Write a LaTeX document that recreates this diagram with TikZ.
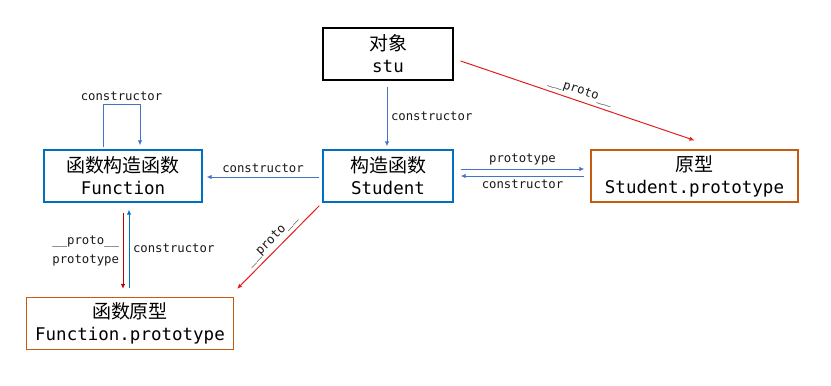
\documentclass[tikz,border=0pt]{standalone}
\usepackage{fontspec}
\setmonofont{DejaVu Sans Mono}
\newfontfamily\cjk{Noto Sans CJK SC}
\usetikzlibrary{arrows.meta,calc}
\definecolor{boxblue}{HTML}{0070C0}
\definecolor{boxorange}{HTML}{C55A11}
\definecolor{arrblue}{HTML}{4472C4}
\definecolor{arrred}{HTML}{E0201E}
\definecolor{darkred}{HTML}{C00000}
\newcommand{\cn}[1]{{\cjk\fontsize{19}{22}\selectfont #1}}
\newcommand{\mono}[1]{{\ttfamily\fontsize{17.5}{22}\selectfont #1}}
\begin{document}
\begin{tikzpicture}[x=1pt,y=-1pt,
  box/.style={draw, line width=1.3pt, rectangle, minimum height=52pt, align=center, inner sep=0pt,
    font=\fontsize{18}{22}\selectfont},
  lbl/.style={font=\ttfamily\fontsize{12.3}{19}\selectfont, text=black!90, inner sep=3.5pt},
  barrow/.style={draw=arrblue, line width=1pt, -{Latex[length=5pt,width=4.5pt]}},
  rarrow/.style={draw=arrred, line width=1pt, -{Latex[length=5pt,width=4.5pt]}},
]
\useasboundingbox (0,0) rectangle (831,386);

\node[box, draw=black, minimum width=130pt] (stu) at (388,54) {\cn{对象}\\\mono{stu}};
\node[box, draw=boxblue, minimum width=130pt] (Student) at (388,176) {\cn{构造函数}\\\mono{Student}};
\node[box, draw=boxblue, minimum width=158pt] (Function) at (123,176) {\cn{函数构造函数}\\\mono{Function}};
\node[box, draw=boxorange, minimum width=207pt] (SP) at (694.5,176) {\cn{原型}\\\mono{Student.prototype}};
\node[box, draw=boxorange, minimum width=207pt] (FP) at (130,323.5) {\cn{函数原型}\\\mono{Function.prototype}};

% stu -> Student
\draw[barrow] ($(stu.south)+(-1,6)$) -- ($(Student.north)+(-1,-3)$)
  node[midway, right, lbl] {constructor};
% stu -> Student.prototype
\draw[rarrow] ($(stu.east)+(7,7)$) -- ($(SP.north)+(0,-9)$)
  node[midway, sloped, above, lbl] {\_\_proto\_\_};
% Student -> Function
\draw[barrow] ($(Student.west)+(-3,1)$) -- ($(Function.east)+(4,1)$)
  node[midway, above, lbl] {constructor};
% Student <-> Student.prototype
\draw[barrow] ($(Student.east)+(7,-7)$) -- ($(SP.west)+(-6,-7)$)
  node[midway, above, lbl] {prototype};
\draw[barrow] ($(SP.west)+(-6,0)$) -- ($(Student.east)+(7,0)$)
  node[midway, below, lbl] {constructor};
% Function self loop
\draw[barrow] ($(Function.north)+(-20,-2)$) -- ++(0,-43) -- ++(37,0)
  node[midway, above, lbl] {constructor} -- ($(Function.north)+(17,-4)$);
% Function <-> Function.prototype
\draw[draw=darkred, line width=1pt, -{Latex[length=5pt,width=4.5pt]}]
  ($(Function.south)+(0,10)$) -- ($(Function.south |- FP.north)+(0,-8)$)
  node[midway, left, lbl, align=center] {\_\_proto\_\_\\prototype};
\draw[draw=boxblue, line width=1pt, -{Latex[length=5pt,width=4.5pt]}]
  ($(Function.south |- FP.north)+(6,-9)$) -- ($(Function.south)+(6,7)$)
  node[midway, right, lbl] {constructor};
% Student -> Function.prototype
\draw[rarrow] ($(Student.south west)+(-3,3)$) -- ($(FP.north east)+(3,-8)$)
  node[midway, sloped, above, lbl] {\_\_proto\_\_};
\end{tikzpicture}
\end{document}
